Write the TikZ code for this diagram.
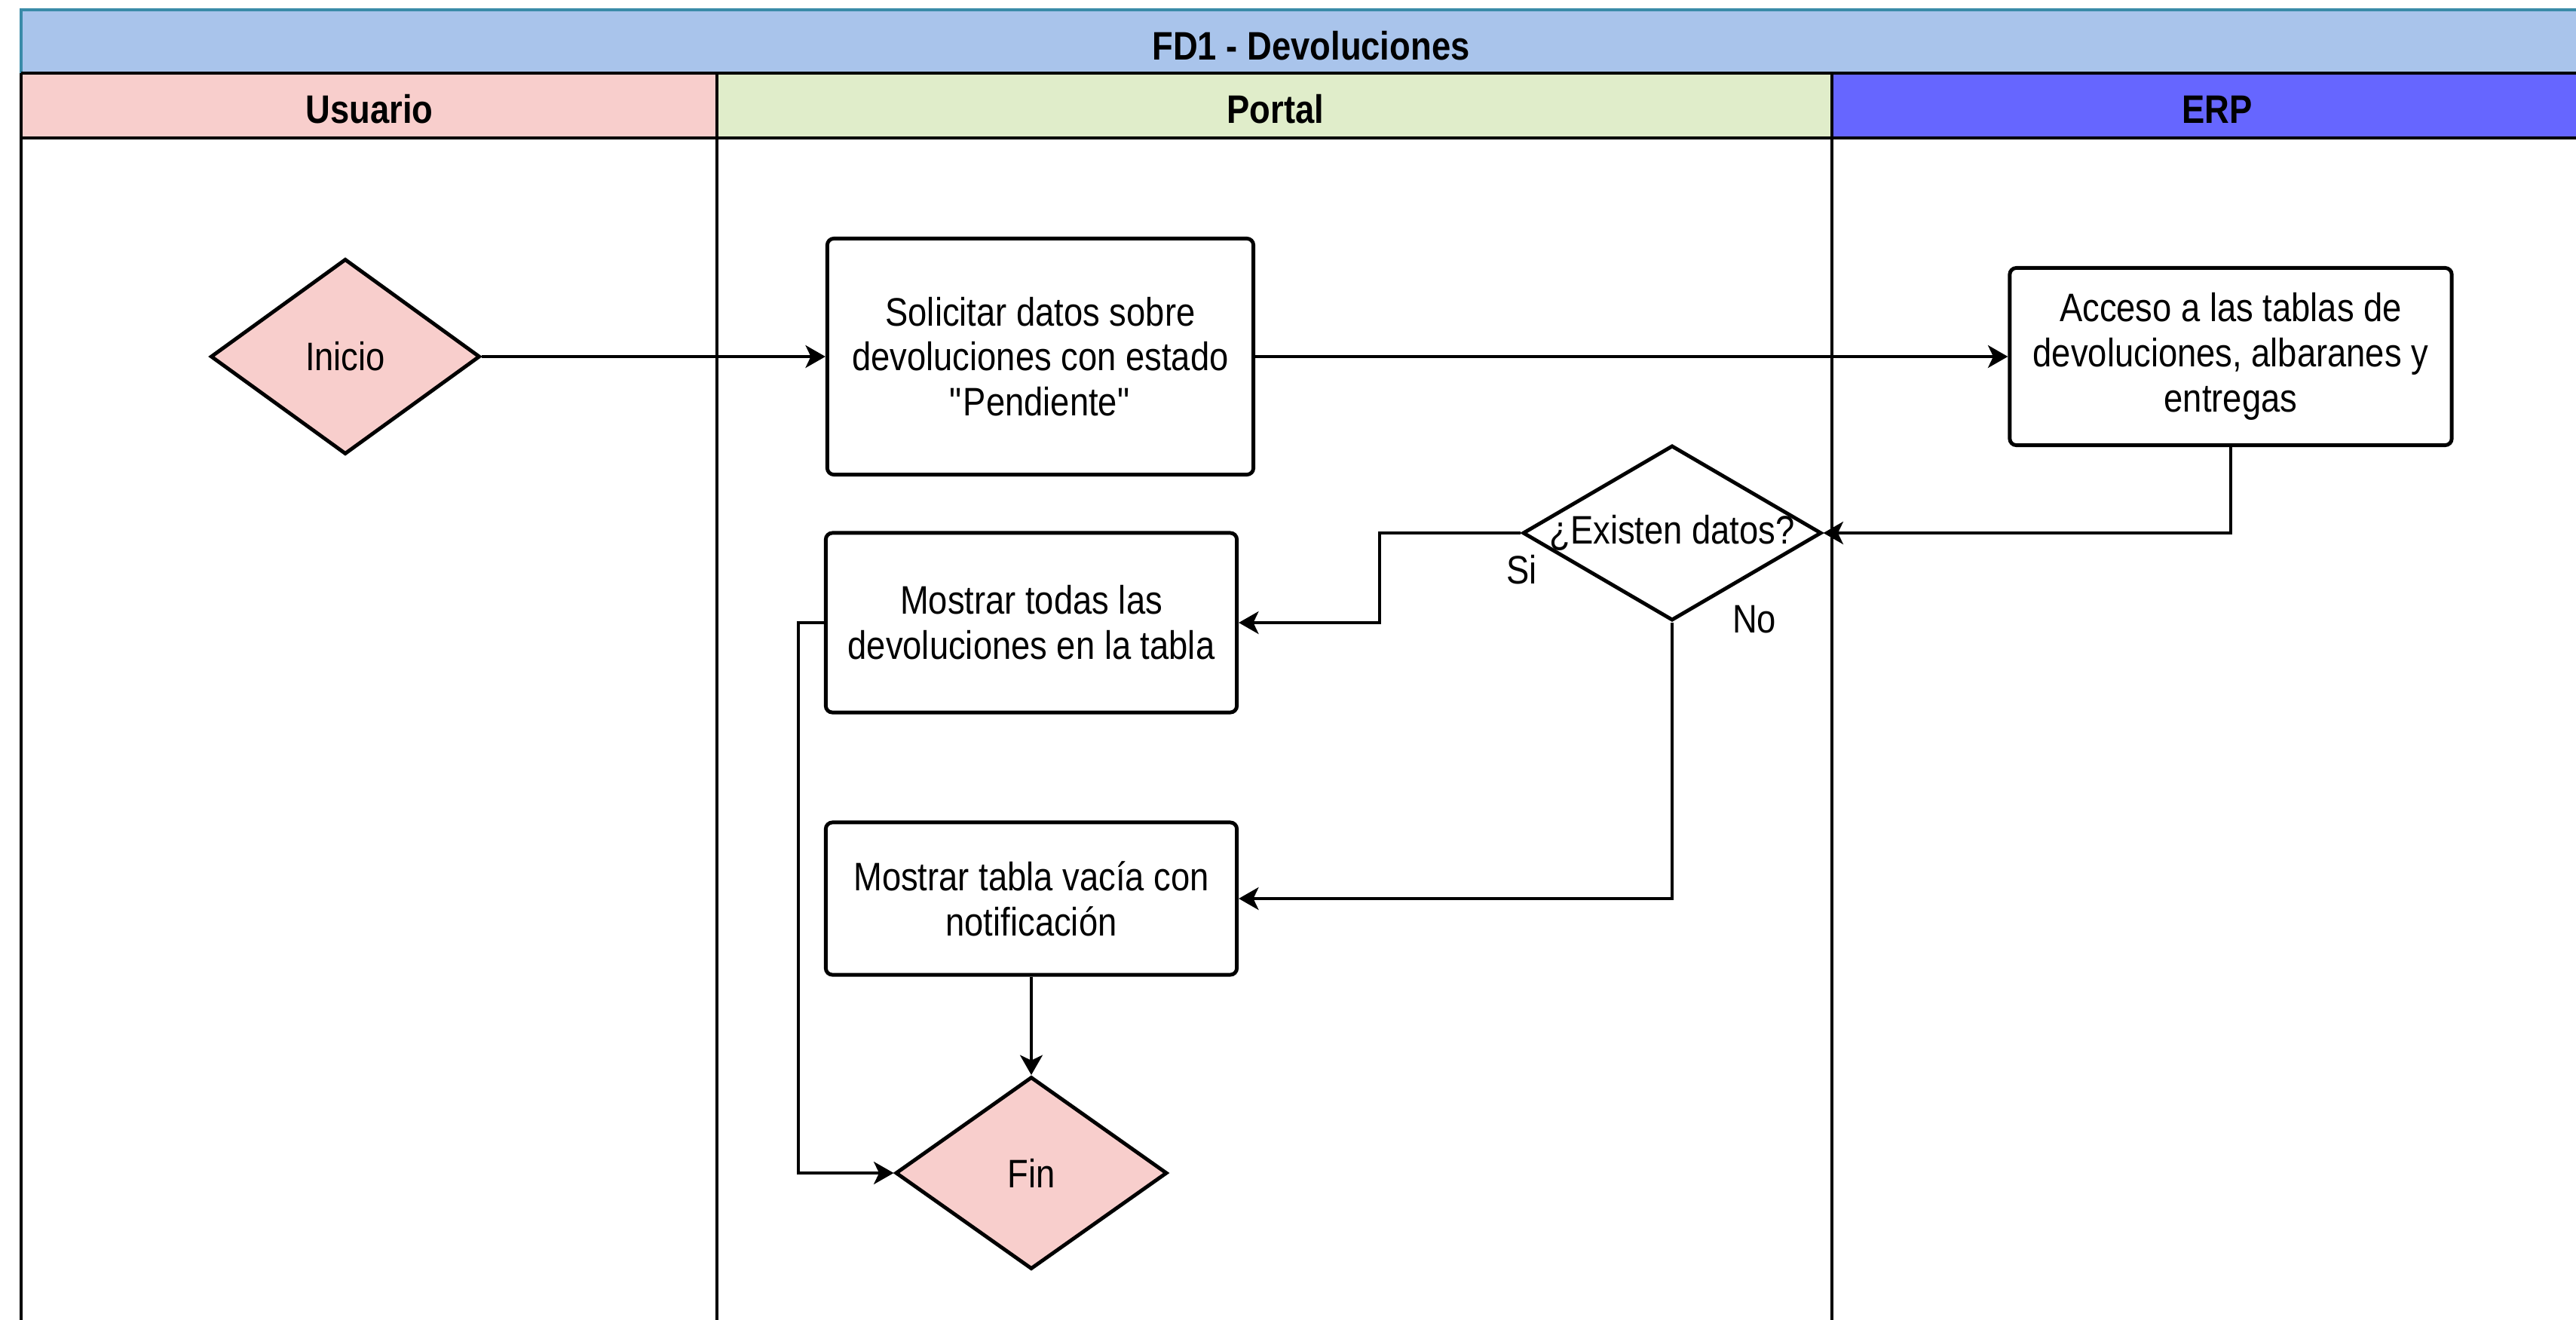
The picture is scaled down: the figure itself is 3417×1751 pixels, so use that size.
\documentclass[tikz,border=0pt]{standalone}
\usepackage{fontspec}
\setmainfont{Liberation Sans}[FakeStretch=0.86]
\usetikzlibrary{arrows.meta,shapes.geometric,calc}

\definecolor{titleblue}{HTML}{A9C4EB}
\definecolor{titleedge}{HTML}{3A8BA8}
\definecolor{userpink}{HTML}{F8CECC}
\definecolor{portalgreen}{HTML}{E0EDCA}
\definecolor{erpblue}{HTML}{6666FF}

\tikzset{
  lane/.style={line width=1.1pt},
  lanetitle/.style={font=\fontsize{15}{17}\selectfont\bfseries},
  procbox/.style={draw, line width=1.4pt, rounded corners=2.5pt, fill=white, align=center, inner sep=0pt},
  terminal/.style={diamond, draw, line width=1.4pt, fill=userpink, inner sep=0pt},
  question/.style={diamond, draw, line width=1.4pt, fill=white, inner sep=0pt},
  flow/.style={line width=1.1pt, -{Stealth[length=7.5pt,width=8.5pt,inset=2pt]}},
  branch/.style={inner sep=0pt},
}

\begin{document}
\begin{tikzpicture}[x=0.01cm, y=-0.01cm, font=\fontsize{15}{17}\selectfont]
  \useasboundingbox (0,0) rectangle (3417,1751);
  \clip (0,0) rectangle (3417,1751);
  % pool and lanes
  \fill[titleblue] (28,13) rectangle (3452,97);
  \draw[titleedge, line width=1.2pt] (28,97) -- (28,13) -- (3452,13);
  \fill[userpink] (28,97) rectangle (951,183);
  \fill[portalgreen] (951,97) rectangle (2430,183);
  \fill[erpblue] (2430,97) rectangle (3452,183);
  \draw[lane, line width=1.3pt] (28,97) -- (3452,97) (28,183) -- (3452,183);
  \draw[lane] (28,97) -- (28,1800) (951,97) -- (951,1800) (2430,97) -- (2430,1800);
  \node[lanetitle] (pool) at (1739,61) {FD1 - Devoluciones};
  \node[lanetitle] (usuario) at (490,145) {Usuario};
  \node[lanetitle] (portal) at (1692,145) {Portal};
  \node[lanetitle] (erp) at (2941,145) {ERP};

  % steps
  \node[terminal, minimum width=3.57cm, minimum height=2.59cm] (inicio) at (458,473) {Inicio};
  \node[procbox, minimum width=5.65cm, minimum height=3.13cm] (solicitar) at (1380,473)
    {Solicitar datos sobre\\devoluciones con estado\\\textquotedbl Pendiente\textquotedbl};
  \node[procbox, minimum width=5.86cm, minimum height=2.35cm] (acceso) at (2959,473)
    {Acceso a las tablas de\\devoluciones, albaranes y\\entregas};
  \node[question, minimum width=3.96cm, minimum height=2.32cm] (existen) at (2218,707)
    {\makebox[0pt]{¿Existen datos?}};
  \node[procbox, minimum width=5.45cm, minimum height=2.38cm] (todas) at (1368,826)
    {Mostrar todas las\\devoluciones en la tabla};
  \node[procbox, minimum width=5.45cm, minimum height=2.02cm] (vacia) at (1368,1192)
    {Mostrar tabla vacía con\\notificación};
  \node[terminal, minimum width=3.6cm, minimum height=2.55cm] (fin) at (1368,1556) {Fin};
  \node[branch] (si) at ($(existen.west)+(1,49)$) {Si};
  \node[branch] (no) at ($(existen.south)+(109,-4)$) {No};

  % connectors
  \draw[flow] (inicio.east) -- (solicitar.west);
  \draw[flow] (solicitar.east) -- (acceso.west);
  \draw[flow] (acceso.south) |- (existen.east);
  \draw[flow] (existen.west) -| ($(existen.west)!.5!(todas.east)$) |- (todas.east);
  \draw[flow] (existen.south) |- (vacia.east);
  \draw[flow] (vacia.south) -- (fin.north);
  \draw[flow] (todas.west) -- ++(-34,0) |- (fin.west);
\end{tikzpicture}
\end{document}
